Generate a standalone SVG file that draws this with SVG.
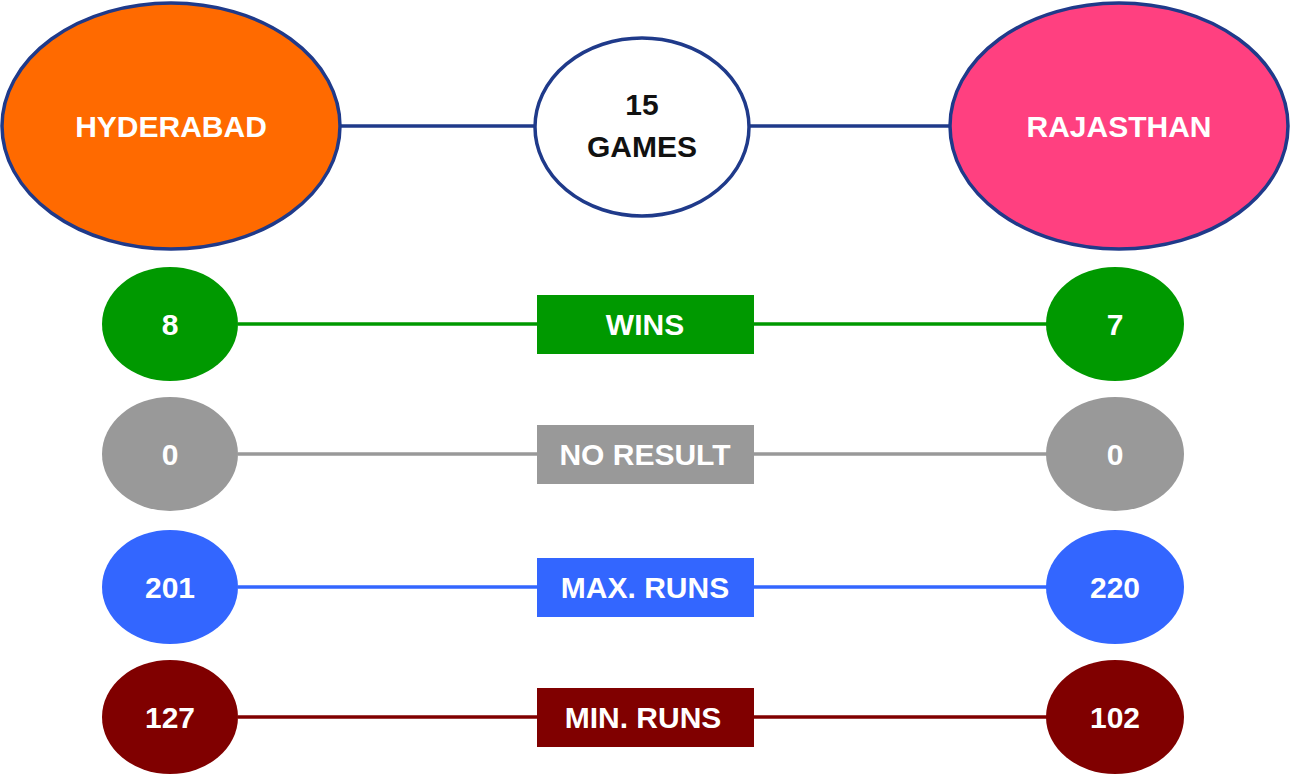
<svg xmlns="http://www.w3.org/2000/svg" width="1291" height="776" viewBox="0 0 1291 776">
<style>
text{font-family:"Liberation Sans",Arial,sans-serif;font-weight:bold;font-size:30px;text-anchor:middle;fill:#fff}
.dark{fill:#111}
.big{stroke:#1F3A8A;stroke-width:3.5}
.c{stroke-width:3.5;fill:none}
</style>
<rect width="1291" height="776" fill="#fff"/>
<g id="connectors">
<line class="c" x1="341" y1="126" x2="535" y2="126" stroke="#1F3A8A"/>
<line class="c" x1="749" y1="126" x2="950" y2="126" stroke="#1F3A8A"/>
<line class="c" x1="238" y1="324" x2="1047" y2="324" stroke="#009900"/>
<line class="c" x1="238" y1="454" x2="1047" y2="454" stroke="#999999"/>
<line class="c" x1="238" y1="587" x2="1047" y2="587" stroke="#3366FF"/>
<line class="c" x1="238" y1="717" x2="1047" y2="717" stroke="#800000"/>
</g>
<g id="hyderabad"><ellipse class="big" cx="171" cy="126" rx="169" ry="123" fill="#FF6A00"/><text x="171" y="137">HYDERABAD</text></g>
<g id="games"><ellipse class="big" cx="642" cy="127" rx="107" ry="89" fill="#fff"/><text class="dark" x="642" y="115">15</text><text class="dark" x="642" y="157">GAMES</text></g>
<g id="rajasthan"><ellipse class="big" cx="1119" cy="126" rx="169" ry="123" fill="#FF4080"/><text x="1119" y="137">RAJASTHAN</text></g>

<g id="h-wins"><ellipse cx="170" cy="324" rx="68" ry="57" fill="#009900"/><text x="170" y="335">8</text></g>
<g id="wins"><rect x="537" y="295" width="217" height="59" fill="#009900"/><text x="645" y="335">WINS</text></g>
<g id="r-wins"><ellipse cx="1115" cy="324" rx="69" ry="57" fill="#009900"/><text x="1115" y="335">7</text></g>

<g id="h-nr"><ellipse cx="170" cy="454" rx="68" ry="57" fill="#999999"/><text x="170" y="465">0</text></g>
<g id="nr"><rect x="537" y="425" width="217" height="59" fill="#999999"/><text x="645" y="465">NO RESULT</text></g>
<g id="r-nr"><ellipse cx="1115" cy="454" rx="69" ry="57" fill="#999999"/><text x="1115" y="465">0</text></g>

<g id="h-max"><ellipse cx="170" cy="587" rx="68" ry="57" fill="#3366FF"/><text x="170" y="598">201</text></g>
<g id="max"><rect x="537" y="558" width="217" height="59" fill="#3366FF"/><text x="645" y="598">MAX. RUNS</text></g>
<g id="r-max"><ellipse cx="1115" cy="587" rx="69" ry="57" fill="#3366FF"/><text x="1115" y="598">220</text></g>

<g id="h-min"><ellipse cx="170" cy="717" rx="68" ry="57" fill="#800000"/><text x="170" y="728">127</text></g>
<g id="min"><rect x="537" y="688" width="217" height="59" fill="#800000"/><text x="643" y="728">MIN. RUNS</text></g>
<g id="r-min"><ellipse cx="1115" cy="717" rx="69" ry="57" fill="#800000"/><text x="1115" y="728">102</text></g>
</svg>
